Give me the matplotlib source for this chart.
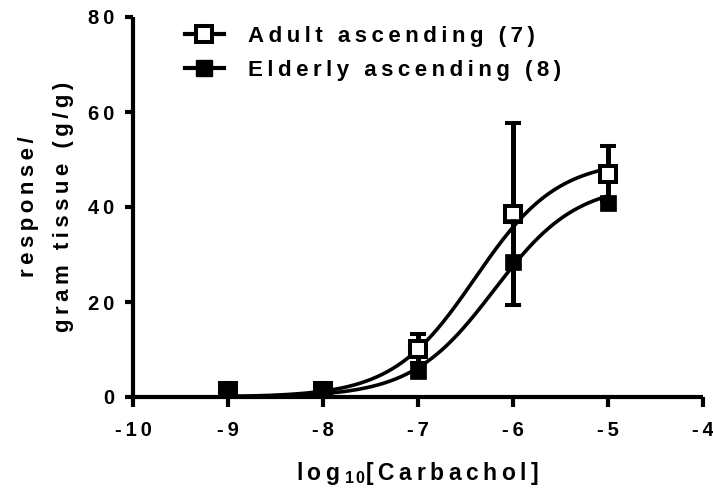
import numpy as np
import matplotlib
matplotlib.use('Agg')
import matplotlib.pyplot as plt
from matplotlib.lines import Line2D

plt.rcParams['font.family'] = ['Liberation Sans', 'DejaVu Sans']
plt.rcParams['font.weight'] = 'bold'
plt.rcParams['mathtext.fontset'] = 'custom'
plt.rcParams['mathtext.bf'] = 'Liberation Sans:bold'
plt.rcParams['mathtext.rm'] = 'Liberation Sans:bold'

# log10 molar carbachol concentrations
log_conc = [-9, -8, -7, -6, -5]

# adult ascending (n=7)
adult_mean = [1.3, 1.2, 10.2, 38.5, 47.0]
adult_sem = [0.3, 0.3, 3.0, 19.2, 5.8]

# elderly ascending (n=8)
elderly_mean = [1.3, 1.2, 5.5, 28.4, 40.8]
elderly_sem = [0.3, 0.3, 1.0, 9.0, 1.0]

# sigmoidal fit parameters: bottom, top, logEC50, hill slope
adult_fit = (0.0, 50.0, -6.4, 1.0)
elderly_fit = (0.0, 45.0, -6.2, 1.0)

labels = ['Adult ascending (7)', 'Elderly ascending (8)']
xticks = [-10, -9, -8, -7, -6, -5, -4]
yticks = [0, 20, 40, 60, 80]

THIN = '\u2009'  # 1/5 em


def track(s, sep=THIN):
    # wide letter spacing like the prism export
    return sep.join(s)


def hill(x, p):
    bottom, top, ec50, slope = p
    return bottom + (top - bottom) / (1 + 10 ** ((ec50 - x) * slope))


fig = plt.figure(figsize=(7.13, 4.92), dpi=100)
ax = fig.add_axes([133 / 713, 1 - 397 / 492, 570 / 713, 380 / 492])

xs = np.linspace(-9, -5, 300)
ax.plot(xs, hill(xs, adult_fit), color='black', lw=2.6, zorder=2)
ax.plot(xs, hill(xs, elderly_fit), color='black', lw=2.6, zorder=2)

ax.errorbar(log_conc, adult_mean, yerr=adult_sem, fmt='s', color='black',
            mfc='white', mec='black', mew=2.9, ms=11.5, elinewidth=3.6,
            capsize=5.5, capthick=3.6, zorder=3)
ax.errorbar(log_conc, elderly_mean, yerr=elderly_sem, fmt='s', color='black',
            mfc='black', mec='black', mew=0.5, ms=11.5, elinewidth=3.6,
            capsize=5.5, capthick=3.6, zorder=4)

ax.set_xlim(-10, -4)
ax.set_ylim(0, 80)
ax.set_xticks(xticks)
ax.set_yticks(yticks)
ax.set_xticklabels([track(str(v)) for v in xticks])
ax.set_yticklabels([track(str(v)) for v in yticks])

for s in ['top', 'right']:
    ax.spines[s].set_visible(False)
for s in ['left', 'bottom']:
    ax.spines[s].set_linewidth(3)
    ax.spines[s].set_capstyle('butt')
ax.tick_params(axis='x', width=3, length=7, labelsize=14.5, pad=10)
ax.tick_params(axis='y', width=3, length=6, labelsize=14.5, pad=7.5)
for t in ax.get_xticklabels() + ax.get_yticklabels():
    t.set_fontweight('bold')

ax.set_xlabel(track('log') + THIN + r'$_{\mathbf{1\,0}}$' + track('[Carbachol]'),
              fontsize=16.5, fontweight='bold', labelpad=15)
ax.set_ylabel(track('response/') + '\n' + track('gram tissue (g/g)'),
              fontsize=16, fontweight='bold', labelpad=10, linespacing=1.9,
              multialignment='center')

handles = [
    Line2D([], [], color='black', lw=3, marker='s', ms=11.5, mfc='white', mec='black', mew=2.9),
    Line2D([], [], color='black', lw=3, marker='s', ms=11.5, mfc='black', mec='black'),
]
ax.legend(handles, [track(l) for l in labels], loc='upper left',
          bbox_to_anchor=(0.056, 1.03), frameon=False,
          prop={'size': 16, 'weight': 'bold'}, handlelength=1.75,
          handletextpad=1.1, labelspacing=0.6)

fig.savefig('out.png', dpi=100)
